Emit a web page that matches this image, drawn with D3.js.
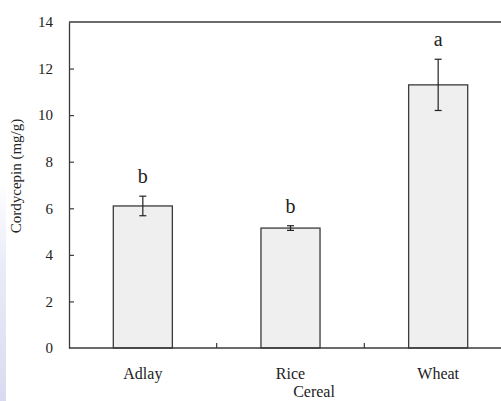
<!DOCTYPE html>
<html>
<head>
<meta charset="utf-8">
<script src="https://cdn.jsdelivr.net/npm/d3@7/dist/d3.min.js"></script>
<style>
  html, body { margin: 0; padding: 0; background: #fff; }
  svg { display: block; }
  svg text { font-family: "Liberation Serif", "DejaVu Serif", "Times New Roman", serif !important; fill: #222; }
</style>
</head>
<body>
<script>
// Cordycepin content by cereal substrate (mean ± SD) with significance letters
const categories = ["Adlay", "Rice", "Wheat"];
const means = [6.1, 5.15, 11.3];
const errors = [0.42, 0.1, 1.1];
const letters = ["b", "b", "a"];
const yTicks = [0, 2, 4, 6, 8, 10, 12, 14];

const W = 501, H = 401;
const margin = { top: 22, left: 69, bottom: 53 };
const plotRight = 512;
const serif = "'Liberation Serif', 'DejaVu Serif', 'Times New Roman', serif";

const svg = d3.select("body").append("svg")
  .attr("width", W).attr("height", H)
  .attr("font-family", serif);

// faint tint along the left edge
const defs = svg.append("defs");
const grad = defs.append("linearGradient").attr("id", "edge")
  .attr("x1", 0).attr("y1", 0).attr("x2", 0).attr("y2", 1);
grad.append("stop").attr("offset", "0%").attr("stop-color", "#e4e6f6").attr("stop-opacity", 0);
grad.append("stop").attr("offset", "40%").attr("stop-color", "#e4e6f6").attr("stop-opacity", 0.8);
grad.append("stop").attr("offset", "100%").attr("stop-color", "#d8daf0").attr("stop-opacity", 1);
svg.append("rect").attr("x", 0).attr("y", 180).attr("width", 6).attr("height", H - 180)
  .attr("fill", "url(#edge)");

const y = d3.scaleLinear().domain([0, 14]).range([H - margin.bottom, margin.top]);
const x = d3.scaleBand().domain(categories)
  .range([margin.left, plotRight])
  .paddingInner(0.6).paddingOuter(0.3);

const frameColor = "#3a3a3a";

// bars
svg.append("g").selectAll("rect")
  .data(categories)
  .join("rect")
  .attr("x", d => x(d))
  .attr("y", (d, i) => y(means[i]))
  .attr("width", x.bandwidth())
  .attr("height", (d, i) => y(0) - y(means[i]))
  .attr("fill", "#efefef")
  .attr("stroke", frameColor)
  .attr("stroke-width", 1.3);

// error bars
const eb = svg.append("g").attr("stroke", "#222").attr("stroke-width", 1.2);
categories.forEach((c, i) => {
  const cx = x(c) + x.bandwidth() / 2;
  const top = y(means[i] + errors[i]), bot = y(means[i] - errors[i]);
  eb.append("line").attr("x1", cx).attr("x2", cx).attr("y1", top).attr("y2", bot);
  eb.append("line").attr("x1", cx - 3.5).attr("x2", cx + 3.5).attr("y1", top).attr("y2", top);
  eb.append("line").attr("x1", cx - 3.5).attr("x2", cx + 3.5).attr("y1", bot).attr("y2", bot);
});

// significance letters
svg.append("g").selectAll("text")
  .data(categories)
  .join("text")
  .attr("x", d => x(d) + x.bandwidth() / 2)
  .attr("y", (d, i) => y(means[i] + errors[i]) - 13)
  .attr("text-anchor", "middle")
  .attr("font-size", 20)
  .text((d, i) => letters[i]);

// y axis with inward ticks
const yAxis = svg.append("g")
  .attr("transform", `translate(${margin.left},0)`)
  .call(d3.axisLeft(y).tickValues(yTicks).tickSizeInner(-5).tickSizeOuter(0).tickPadding(16));
yAxis.attr("font-family", serif).attr("font-size", 15);
yAxis.select(".domain").attr("stroke", frameColor).attr("stroke-width", 1.3);
yAxis.selectAll(".tick line").attr("stroke", frameColor).attr("stroke-width", 1.2)
  .filter(d => d === 0 || d === 14).remove();
yAxis.selectAll(".tick text").attr("fill", "#222");

// x axis with category labels
const xAxis = svg.append("g")
  .attr("transform", `translate(0,${y(0)})`)
  .call(d3.axisBottom(x).tickSize(0).tickPadding(20));
xAxis.attr("font-family", serif).attr("font-size", 16);
xAxis.select(".domain").remove();
xAxis.selectAll(".tick text").attr("fill", "#222");

// baseline and top frame
svg.append("line").attr("x1", margin.left).attr("x2", plotRight)
  .attr("y1", y(0)).attr("y2", y(0)).attr("stroke", frameColor).attr("stroke-width", 1.3);
svg.append("line").attr("x1", margin.left).attr("x2", plotRight)
  .attr("y1", y(14)).attr("y2", y(14)).attr("stroke", frameColor).attr("stroke-width", 1.3);

// separator ticks between categories
const step = x.step();
const seps = categories.slice(0, -1).map(c => x(c) + x.bandwidth() + (step - x.bandwidth()) / 2);
svg.append("g").selectAll("line").data(seps).join("line")
  .attr("x1", d => d).attr("x2", d => d)
  .attr("y1", y(0)).attr("y2", y(0) - 5)
  .attr("stroke", frameColor).attr("stroke-width", 1.2);

// axis titles
svg.append("text")
  .attr("transform", "translate(21,176) rotate(-90)")
  .attr("text-anchor", "middle")
  .attr("font-size", 15)
  .text("Cordycepin (mg/g)");

svg.append("text")
  .attr("x", 314).attr("y", 397)
  .attr("text-anchor", "middle")
  .attr("font-size", 16)
  .text("Cereal");
</script>
</body>
</html>
